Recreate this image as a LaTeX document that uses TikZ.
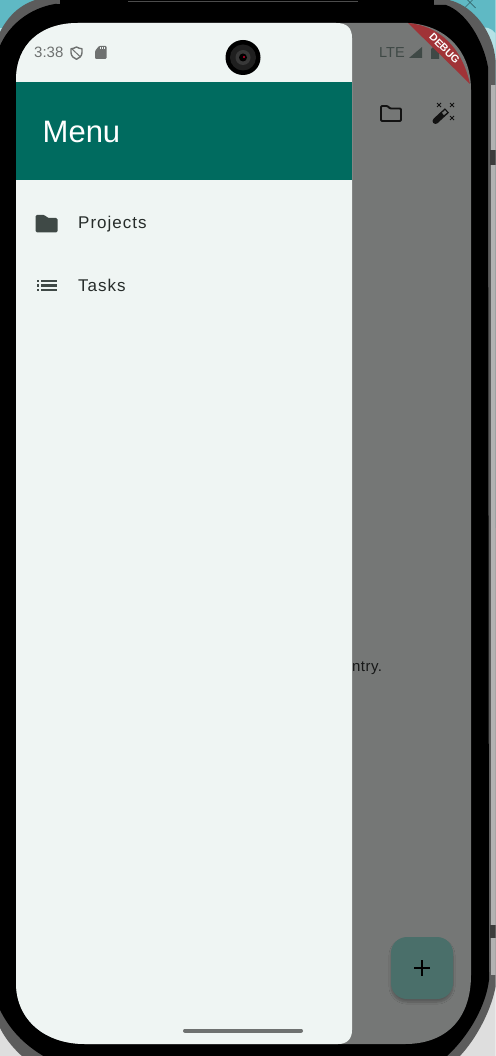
\documentclass[tikz,border=0pt]{standalone}
\usepackage{fontspec}
\setmainfont{Liberation Sans}
\usetikzlibrary{shadows.blur}
\definecolor{paper}{HTML}{EFF5F3}
\definecolor{teal1}{HTML}{006B5F}
\definecolor{scrim}{HTML}{757776}
\definecolor{fabc}{HTML}{4A6F6A}
\definecolor{icon}{HTML}{3F4946}
\definecolor{stat}{HTML}{6E7170}
\definecolor{debugc}{HTML}{A03337}
\definecolor{bezel}{HTML}{5C5C5C}
\definecolor{bgteal}{HTML}{5FB9C4}
\definecolor{bgpale}{HTML}{B5E2E6}
\definecolor{bgbottom}{HTML}{DEDEDE}
\tikzset{x=1pt,y=-1pt,
 lbl/.style={inner sep=0pt,anchor=base west,text=#1},
 lbl/.default=black,
 itemtext/.style={font=\fontsize{17}{20}\selectfont\addfontfeature{LetterSpace=6}},
 smalltext/.style={font=\fontsize{15}{18}\selectfont\addfontfeature{LetterSpace=3}},
 spark/.style={black!85!scrim,line width=1pt}}
\begin{document}
\begin{tikzpicture}
\useasboundingbox (0,0) rectangle (495.5,1056);
\clip (0,0) rectangle (495.5,1056);
% backdrop
\fill[bgteal] (0,0) rectangle (496,528);
\fill[bgpale] (0,28) rectangle (12,48);
\fill[bgpale] (478,28) .. controls (485,26) and (492,28) .. (496,34) -- (496,100) -- (478,100) -- cycle;
\fill[bgbottom] (0,528) rectangle (496,1056);
\draw[black!45!bgteal,line width=0.7pt] (464.5,-3) -- (475.5,8) (475.5,-3) -- (464.5,8);
% device bezel
\fill[bezel] (0,32) .. controls (8,16) and (20,5) .. (35,0) -- (449,0) .. controls (470,5) and (488,25) .. (494,50) .. controls (496,60) and (497,75) .. (497,90) -- (497,975) .. controls (496,1000) and (480,1035) .. (459,1057) -- (23,1057) .. controls (15,1050) and (6,1040) .. (0,1028) -- cycle;
\fill[gray!60] (491,85) rectangle (496,975);
\fill[bezel!65!black] (490,150) rectangle (496,165);
\fill[bezel!65!black] (490,925) rectangle (496,938);
% device body
\fill[black] (-1,48) .. controls (8,25) and (30,8) .. (55,4) -- (446,5) .. controls (466,12) and (483,40) .. (488,67) -- (489,980) .. controls (486,1005) and (470,1035) .. (446,1057) -- (45,1057) .. controls (30,1048) and (12,1035) .. (-1,1008) -- cycle;
\fill[black] (60,-1) rectangle (434,6);
\draw[black!70,line width=0.8pt] (128,1.5) -- (358,1.5);
% screen
\fill[scrim] (16,80) .. controls (16,45) and (40,23) .. (78,23) -- (408,23) .. controls (445,25) and (471,50) .. (471,90) -- (471,975) .. controls (471,1020) and (445,1044) .. (405,1044) -- (85,1044) .. controls (45,1044) and (16,1020) .. (16,983) -- cycle;
% content behind scrim
\node[lbl=black!80!scrim,smalltext] (entry) at (352,671) {ntry.};
\node[lbl=icon,font=\fontsize{14.5}{16}\selectfont] (lte) at (379,58) {LTE};
\fill[icon] (409,58) -- (422,47) -- (422,58) -- cycle;
\fill[icon] (433,47) -- (439,47) -- (439,59) -- (431,59) -- (431,49) -- cycle;
% debug banner
\fill[debugc] (408,23) .. controls (440,26) and (462,48) .. (470,84) -- cycle;
\node[rotate=-45,font=\bfseries\fontsize{10.5}{12}\selectfont,text=white,inner sep=0pt] (debug) at (444.5,48.5) {DEBUG};
% folder outline
\draw[black!85!scrim,line width=1.9pt,line join=round,rounded corners=1pt] (381,106) -- (387.5,106) -- (390,108.5) -- (401,108.5) -- (401,121) -- (381,121) -- cycle;
% wand
\draw[black!85!scrim,line width=6pt,line cap=round] (435.5,121) -- (442,115);
\draw[black!85!scrim,line width=6pt,line cap=butt] (442,115) -- (447,110.5);
\draw[scrim,line width=3pt,line cap=butt] (443,114) -- (446,111.3);
\foreach \px/\py in {439/105,452/105,452/118}{
 \draw[spark] (\px-2,\py-2) -- (\px+2,\py+2) (\px-2,\py+2) -- (\px+2,\py-2);
}
% FAB
\node[draw=none,fill=fabc,rounded corners=16pt,minimum width=62pt,minimum height=62pt,inner sep=0pt,blur shadow={shadow blur steps=8,shadow xshift=0pt,shadow yshift=-3pt,shadow opacity=25}] (fab) at (422,968) {};
\draw[black,line width=1.6pt] (414,968) -- (430,968) (422,960) -- (422,976);
% drawer
\fill[paper] (16,80) .. controls (16,45) and (40,23) .. (78,23) -- (336,23) .. controls (347,23) and (352,28) .. (352,38) -- (352,1030) .. controls (352,1039) and (347,1044) .. (338,1044) -- (85,1044) .. controls (45,1044) and (16,1020) .. (16,983) -- cycle;
\fill[teal1] (16,82) rectangle (352,180);
\node[lbl=white,font=\fontsize{31}{34}\selectfont] (menu) at (42.5,143) {Menu};
% status
\node[lbl=stat,font=\fontsize{15}{18}\selectfont] (time) at (34,58) {3:38};
\draw[stat,line width=1.4pt,line join=round] (71,48.8) .. controls (73,48.5) and (75,48) .. (76.5,47) .. controls (78,48) and (80,48.5) .. (82,48.8) -- (82,52.5) .. controls (82,56) and (79,58.5) .. (76.5,59.3) .. controls (74,58.5) and (71,56) .. (71,52.5) -- cycle;
\draw[stat,line width=1pt] (72,49) -- (80.5,57);
\fill[stat,rounded corners=1pt] (95,51) -- (99,46) -- (106.5,46) -- (106.5,59) -- (95,59) -- cycle;
\foreach \sx in {100.5,102.5,104.5}{\fill[paper] (\sx-0.5,47) rectangle (\sx+0.5,49.5);}
% camera
\fill[black] (243,57.5) circle (17.5);
\fill[black!88!white] (243,57.5) circle (13);
\fill[black!78!white] (243,57.5) circle (7.5);
\fill[black] (243,57.5) circle (4);
\fill[purple!75!red] (244,57) circle (1.1);
% items
\fill[icon,rounded corners=1.5pt] (35.5,232.5) -- (35.5,215) -- (45,215) -- (47.5,218) -- (57.5,218) -- (57.5,232.5) -- cycle;
\node[lbl=icon!60!black,itemtext] (projects) at (78,229) {Projects};
\foreach \ly in {281,285.5,290}{
 \fill[icon] (37,\ly-1.2) rectangle (39.2,\ly+1.2);
 \fill[icon] (41.3,\ly-1.2) rectangle (57,\ly+1.2);
}
\node[lbl=icon!60!black,itemtext] (tasks) at (78,291) {Tasks};
% home bar
\draw[stat,line width=4pt,line cap=round] (185,1030.5) -- (301,1030.5);
\end{tikzpicture}
\end{document}
